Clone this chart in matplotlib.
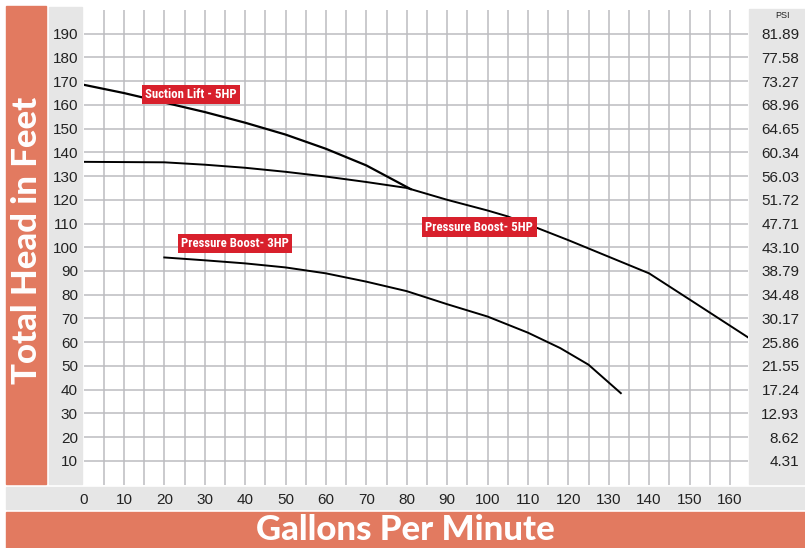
import matplotlib.pyplot as plt
from matplotlib.patches import Rectangle

# pump curves (gallons per minute vs total head in feet)
suction_5hp_gpm = [0, 10, 20, 30, 40, 50, 60, 70, 81]
suction_5hp_head = [168.5, 165, 161, 157, 152.5, 147.5, 141.5, 134.5, 124.5]

boost_5hp_gpm = [0, 20, 30, 40, 50, 60, 70, 80, 90, 100, 105, 120, 130, 140, 150, 164.5]
boost_5hp_head = [136, 135.8, 134.8, 133.5, 131.8, 129.8, 127.5, 125, 120, 115.5, 113,
                  103, 96, 89, 78, 62]

boost_3hp_gpm = [20, 30, 40, 50, 60, 70, 80, 90, 100, 110, 118, 125, 133]
boost_3hp_head = [95.7, 94.5, 93.2, 91.5, 89, 85.5, 81.5, 76, 70.8, 64, 57.5, 50.5, 38.5]

head_ticks = [10, 20, 30, 40, 50, 60, 70, 80, 90, 100, 110, 120, 130, 140, 150, 160, 170, 180, 190]
psi_labels = ["4.31", "8.62", "12.93", "17.24", "21.55", "25.86", "30.17", "34.48", "38.79",
              "43.10", "47.71", "51.72", "56.03", "60.34", "64.65", "68.96", "73.27", "77.58", "81.89"]
gpm_ticks = [0, 10, 20, 30, 40, 50, 60, 70, 80, 90, 100, 110, 120, 130, 140, 150, 160]

# curve labels: (text, gpm, head)
curve_labels = [("Suction Lift - 5HP", 26.5, 164.5),
                ("Pressure Boost- 3HP", 37.5, 101.5),
                ("Pressure Boost- 5HP", 98, 108.5)]

ORANGE = "#e27a60"
PANEL = "#e6e6e6"
RED = "#d8202c"
GRID = "#bcbcc0"
TEXT = "#222222"

W, H = 805, 548
fig = plt.figure(figsize=(W / 100, H / 100), dpi=100)
fig.patch.set_facecolor("white")

def px_rect(x0, y0, x1, y1, color):
    # rectangle given in pixel coords (origin top-left)
    fig.patches.append(Rectangle((x0 / W, 1 - y1 / H), (x1 - x0) / W, (y1 - y0) / H,
                                 transform=fig.transFigure, color=color, zorder=-5))

px_rect(6, 6, 46, 484, ORANGE)      # left title band
px_rect(49, 7, 82, 484, PANEL)      # y tick panel
px_rect(749, 9, 805, 484, PANEL)    # psi panel
px_rect(6, 487, 805, 509, PANEL)    # x tick band
px_rect(6, 512, 805, 548, ORANGE)   # bottom title band

ax_l, ax_r, ax_t, ax_b = 83.5, 748, 10, 484.5
ax = fig.add_axes([ax_l / W, 1 - ax_b / H, (ax_r - ax_l) / W, (ax_b - ax_t) / H])
ax.set_facecolor("white")
ax.set_xlim(0, (ax_r - ax_l) / 4.04)
ax.set_ylim(0, 200)
for s in ax.spines.values():
    s.set_visible(False)

for gx in range(5, 165, 5):
    ax.axvline(gx, color=GRID, lw=1.1, zorder=1)
for gy in head_ticks:
    ax.axhline(gy, color=GRID, lw=1.1, zorder=1)

ax.plot(suction_5hp_gpm, suction_5hp_head, color="black", lw=1.6, zorder=3)
ax.plot(boost_5hp_gpm, boost_5hp_head, color="black", lw=1.4, zorder=3)
ax.plot(boost_3hp_gpm, boost_3hp_head, color="black", lw=1.4, zorder=3)

label_font = ["Liberation Sans Narrow", "Roboto Condensed", "Roboto", "DejaVu Sans"]
for txt, gx, gy in curve_labels:
    ax.text(gx, gy, txt, ha="center", va="center", color="white", fontsize=9.2,
            fontweight="bold", family=label_font, zorder=5,
            bbox=dict(boxstyle="square,pad=0.25", fc=RED, ec="none"))

tick_font = ["Liberation Sans", "DejaVu Sans"]
ax.set_yticks(head_ticks)
ax.set_yticklabels([str(v) for v in head_ticks], family=tick_font, fontsize=11, color=TEXT)
ax.set_xticks(gpm_ticks)
ax.set_xticklabels([str(v) for v in gpm_ticks], family=tick_font, fontsize=11, color=TEXT)
ax.tick_params(axis="both", length=0)
ax.tick_params(axis="y", pad=4)
ax.tick_params(axis="x", pad=6)

ax2 = ax.twinx()
for s in ax2.spines.values():
    s.set_visible(False)
ax2.set_ylim(0, 200)
ax2.set_yticks(head_ticks)
ax2.set_yticklabels(psi_labels, family=tick_font, fontsize=11, color=TEXT, ha="right")
ax2.tick_params(axis="y", length=0, pad=37)
fig.text(782 / W, 1 - 16 / H, "PSI", ha="center", va="center", fontsize=6.5,
         family=tick_font, color=TEXT)

title_font = ["Lato", "DejaVu Sans"]
fig.text(27 / W, 1 - 240 / H, "Total Head in Feet", rotation=90, ha="center", va="center",
         color="white", fontsize=25, fontweight="black", family=title_font)
fig.text(405 / W, 1 - 530 / H, "Gallons Per Minute", ha="center", va="center",
         color="white", fontsize=25, fontweight="black", family=title_font)

fig.savefig("out.png", dpi=100)
